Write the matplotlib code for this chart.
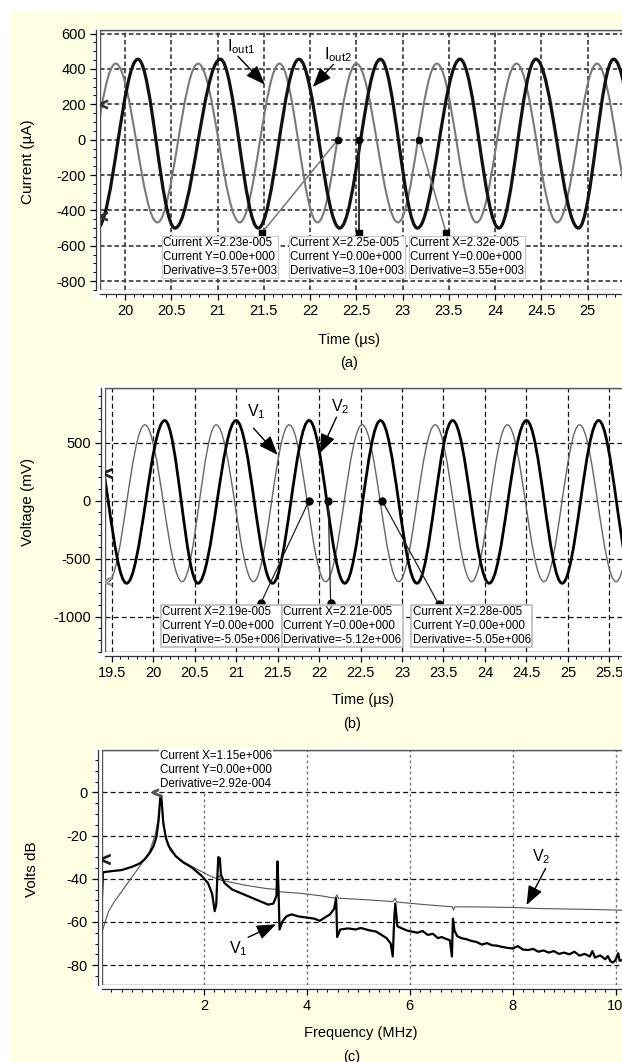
import numpy as np
import matplotlib
matplotlib.use("Agg")
import matplotlib.pyplot as plt
from matplotlib.path import Path
from matplotlib.patches import PathPatch, Rectangle
from matplotlib.ticker import MultipleLocator

plt.rcParams['font.family'] = ['Liberation Sans', 'DejaVu Sans']
plt.rcParams['mathtext.fontset'] = 'custom'
plt.rcParams['mathtext.rm'] = 'Liberation Sans'
plt.rcParams['mathtext.default'] = 'rm'
plt.rcParams['axes.unicode_minus'] = False

# ---- panel (a): output currents, extrema (us, uA)
t_iout1 = [19.46, 19.90, 20.35, 20.79, 21.24, 21.67, 22.08, 22.50, 22.95, 23.37,
           23.80, 24.23, 24.67, 25.10, 25.53, 25.96]
i_iout1 = [-468, 430, -468, 430, -468, 430, -468, 430, -468, 430,
           -468, 430, -468, 430, -468, 430]
t_iout2 = [19.70, 20.14, 20.54, 21.03, 21.44, 21.88, 22.32, 22.76, 23.16, 23.62,
           24.04, 24.44, 24.90, 25.28, 25.72]
i_iout2 = [-500, 455, -500, 455, -500, 455, -500, 455, -500, 455,
           -500, 455, -500, 455, -500]
cur_a_dot = [(22.30, 0), (22.53, 0), (23.18, 0)]
cur_a_pin = [(21.48, -527), (22.53, -527), (23.47, -527)]
cur_a_txt = ["Current X=2.23e-005\nCurrent Y=0.00e+000\nDerivative=3.57e+003",
             "Current X=2.25e-005\nCurrent Y=0.00e+000\nDerivative=3.10e+003",
             "Current X=2.32e-005\nCurrent Y=0.00e+000\nDerivative=3.55e+003"]
cur_a_txt_x = [20.41, 21.78, 23.08]

# ---- panel (b): voltages (us, mV)
t_v1 = [19.46, 19.90, 20.35, 20.76, 21.21, 21.64, 22.08, 22.52, 22.96, 23.40,
        23.84, 24.27, 24.71, 25.14, 25.58, 26.01]
v_v1 = [-698, 653, -698, 653, -698, 653, -698, 653, -698, 653,
        -698, 653, -698, 653, -698, 653]
t_v2 = [19.24, 19.68, 20.14, 20.54, 21.00, 21.44, 21.88, 22.31, 22.74, 23.18,
        23.61, 24.05, 24.50, 24.93, 25.37, 25.80]
v_v2 = [690, -712, 690, -712, 690, -712, 690, -712, 690, -712,
        690, -712, 690, -712, 690, -712]
cur_b_dot = [(21.88, 0), (22.11, 0), (22.76, 0)]
cur_b_pin = [(21.30, -880), (22.14, -880), (23.44, -890)]
cur_b_txt = ["Current X=2.19e-005\nCurrent Y=0.00e+000\nDerivative=-5.05e+006",
             "Current X=2.21e-005\nCurrent Y=0.00e+000\nDerivative=-5.12e+006",
             "Current X=2.28e-005\nCurrent Y=0.00e+000\nDerivative=-5.05e+006"]
cur_b_txt_x = [20.11, 21.57, 23.13]

# ---- panel (c): spectra (MHz, dB)
f_v2 = [0.03, 0.08, 0.15, 0.25, 0.4, 0.55, 0.7, 0.85, 0.95, 1.05, 1.1, 1.14, 1.16,
        1.18, 1.22, 1.28, 1.35, 1.5, 1.7, 1.9, 2.1, 2.25, 2.3, 2.33, 2.4, 2.8, 3.2,
        3.42, 3.45, 3.9, 4.3, 4.55, 4.58, 4.62, 5.2, 5.68, 5.71, 5.75, 6.3, 6.83,
        6.85, 6.88, 7.5, 8.0, 8.5, 9.0, 9.5, 10.0, 10.3]
db_v2 = [-64, -60, -55, -51, -46, -41, -36, -31, -27, -20, -14, -6, -2,
         -6, -15, -23, -27, -30.5, -33.5, -36, -38.5, -40, -38.5, -40.8, -41, -43, -44.5,
         -45, -46, -46.8, -48, -49, -47.5, -49, -49.8, -50.6, -49, -50.8, -52, -53,
         -54.5, -53, -53.1, -53.3, -53.8, -54, -54.2, -54.5, -54.7]
f_v1 = [0.02, 0.04, 0.2, 0.4, 0.6, 0.75, 0.85, 0.95, 1.02, 1.08, 1.12, 1.15, 1.165,
        1.18, 1.21, 1.26, 1.32, 1.45, 1.6, 1.75, 1.95, 2.08, 2.16, 2.21, 2.24, 2.26,
        2.28, 2.31, 2.33, 2.4, 2.55, 2.75, 3.0, 3.15, 3.25, 3.35, 3.41, 3.43, 3.45,
        3.47, 3.52, 3.6, 3.7, 3.85, 4.0, 4.15, 4.25, 4.35, 4.45, 4.53, 4.57, 4.59,
        4.65, 4.8, 4.95, 5.05, 5.2, 5.35, 5.45, 5.55, 5.63, 5.67, 5.7, 5.72, 5.76,
        5.85, 5.95, 6.05, 6.15, 6.25, 6.35, 6.45, 6.55, 6.62, 6.7, 6.78, 6.82, 6.84,
        6.87, 6.92, 7.0, 7.1, 7.2, 7.3, 7.4, 7.5, 7.6, 7.7, 7.8, 7.9, 8.0, 8.1, 8.2,
        8.3, 8.4, 8.5, 8.6, 8.7, 8.8, 8.9, 9.0, 9.1, 9.2, 9.3, 9.4, 9.5, 9.55, 9.6,
        9.7, 9.8, 9.85, 9.9, 9.95, 10.0, 10.05, 10.08, 10.15, 10.3]
db_v1 = [-48, -37, -36.5, -36, -34.5, -33, -31, -28, -25, -20.5, -13, -3, -1.5,
         -4, -14, -21, -25, -29.5, -32.5, -34.5, -38.5, -42, -47, -55, -52, -40,
         -30, -30.5, -38, -42, -45, -47, -49.5, -51, -52, -51.5, -48, -32, -45,
         -63.5, -60, -57.5, -56.5, -57.5, -58, -58.5, -59.5, -58, -56.5, -54, -49, -67,
         -63.5, -63, -63.5, -62.8, -63.8, -64.5, -66, -67.5, -70, -76, -58, -51.5, -62,
         -63, -64, -64.5, -65, -64.2, -66, -65.5, -67.5, -67, -67.8, -68.5, -76, -58.5,
         -64, -66.5, -67.5, -68, -68.8, -69.3, -70.5, -69.8, -70.8, -71, -71.6, -72, -72.3, -71.2, -72.8,
         -73, -72.5, -73.8, -73.2, -74.2, -73.5, -74.8, -74.2, -75, -73.8, -75.6, -74.8, -76, -73.5, -76.5,
         -75.5, -77.3, -75.8, -78.2, -78.8, -77.6, -74.5, -78, -77.5, -77]
cur_c_txt = "Current X=1.15e+006\nCurrent Y=0.00e+000\nDerivative=2.92e-004"

W, H = 622, 1062
BG = '#FFFFE4'
CUR_FS = 8.4
CUR_LS = 1.2


def px_box(x0, y0, x1, y1):
    # pixel box (top-left origin) -> figure fraction rect
    return [x0 / W, 1 - y1 / H, (x1 - x0) / W, (y1 - y0) / H]


def wave(t, v, k=0.3634):
    verts = [(t[0], v[0])]
    codes = [Path.MOVETO]
    for i in range(1, len(t)):
        dt = t[i] - t[i - 1]
        verts += [(t[i - 1] + k * dt, v[i - 1]), (t[i] - k * dt, v[i]), (t[i], v[i])]
        codes += [Path.CURVE4] * 3
    return Path(verts, codes)


def style_axes(ax, xmin, ymin):
    for s in ax.spines.values():
        s.set_linewidth(0.9)
        s.set_color('#333333')
    ax.spines['bottom'].set_position(('outward', 3))
    ax.spines['left'].set_position(('outward', 3))
    ax.add_patch(Rectangle((0, 0), 1, 1, transform=ax.transAxes, fill=False,
                           lw=1.0, ec='#555555', zorder=5))
    ax.xaxis.set_minor_locator(MultipleLocator(xmin))
    ax.yaxis.set_minor_locator(MultipleLocator(ymin))
    ax.tick_params(which='major', length=4, width=0.9, labelsize=10.5, direction='out', pad=3)
    ax.tick_params(which='minor', length=2.5, width=0.7, direction='out')
    ax.set_axisbelow(True)


fig = plt.figure(figsize=(W / 100, H / 100), dpi=100)
fig.patch.set_facecolor('white')
fig.patches.append(Rectangle((10 / W, 0), 1, 1 - 10 / H, transform=fig.transFigure,
                             fc=BG, ec='none', zorder=-10))
for x0, y0, x1, y1 in [(92, 28, 622, 298), (95, 384, 622, 660), (93, 747, 622, 992)]:
    r = px_box(x0, y0, x1, y1)
    fig.patches.append(Rectangle((r[0], r[1]), r[2], r[3], transform=fig.transFigure,
                                 fc='white', ec='none', zorder=-9))

arrow_kw = dict(arrowstyle='-|>,head_length=0.9,head_width=0.35', color='black',
                lw=1.0, shrinkA=0, shrinkB=0, mutation_scale=13)
box_kw = dict(boxstyle='square,pad=0.12', fc='white', ec='#bbbbbb', lw=1.2)

# ================= (a)
ax = fig.add_axes(px_box(100, 30, 634, 290))
ax.set_xlim(19.73, 25.5)
ax.set_ylim(-850, 620)
ax.set_xticks([20, 20.5, 21, 21.5, 22, 22.5, 23, 23.5, 24, 24.5, 25])
ax.set_xticklabels(['20', '20.5', '21', '21.5', '22', '22.5', '23', '23.5', '24', '24.5', '25'])
ax.set_yticks([600, 400, 200, 0, -200, -400, -600, -800])
style_axes(ax, 0.1, 50)
ax.grid(True, color='#444444', lw=1.3, ls=(0, (2.5, 1.5)))
ax.add_patch(PathPatch(wave(t_iout1, i_iout1), fill=False, ec='#7a7a7a', lw=1.5, zorder=3))
ax.add_patch(PathPatch(wave(t_iout2, i_iout2), fill=False, ec='#111111', lw=2.3, zorder=3))
ax.plot([cur_a_pin[0][0], cur_a_dot[0][0]], [cur_a_pin[0][1], cur_a_dot[0][1]], color='#777777', lw=1.1, zorder=4)
ax.plot([cur_a_pin[1][0], cur_a_dot[1][0]], [cur_a_pin[1][1], cur_a_dot[1][1]], color='#222222', lw=1.3, zorder=4)
ax.plot([cur_a_pin[2][0], cur_a_dot[2][0]], [cur_a_pin[2][1], cur_a_dot[2][1]], color='#777777', lw=1.1, zorder=4)
ax.plot([p[0] for p in cur_a_dot], [p[1] for p in cur_a_dot], 'o', color='black', ms=4.5, zorder=6)
ax.plot([p[0] for p in cur_a_pin], [p[1] for p in cur_a_pin], 's', color='black', ms=4, zorder=6)
ax.plot([19.76, 19.76], [200, -430], ls='none', marker='$<$', color='#333333', ms=6, zorder=6)
for x, s in zip(cur_a_txt_x, cur_a_txt):
    ax.text(x, -550, s, fontsize=CUR_FS, va='top', ha='left', linespacing=CUR_LS, zorder=7,
            bbox=dict(boxstyle='square,pad=0.1', fc='white', ec='#c8c8c8', lw=0.8))
ax.annotate('', xy=(21.51, 312), xytext=(21.22, 472), arrowprops=arrow_kw, zorder=7)
ax.text(21.10, 527, 'I$_{out1}$', fontsize=11.5, va='center', ha='left', zorder=7)
ax.annotate('', xy=(22.03, 298), xytext=(22.25, 425), arrowprops=arrow_kw, zorder=7)
ax.text(22.15, 482, 'I$_{out2}$', fontsize=11.5, va='center', ha='left', zorder=7)
fig.text(349 / W, 1 - 340 / H, 'Time (µs)', fontsize=10.5, ha='center', va='center')
fig.text(349 / W, 1 - 363 / H, '(a)', fontsize=10.5, ha='center', va='center')
fig.text(28 / W, 1 - 162 / H, 'Current (µA)', fontsize=11, ha='center', va='center', rotation=90)

# ================= (b)
ax = fig.add_axes(px_box(105, 388, 631, 652))
ax.set_xlim(19.42, 25.76)
ax.set_ylim(-1304, 970)
ax.set_xticks([19.5, 20, 20.5, 21, 21.5, 22, 22.5, 23, 23.5, 24, 24.5, 25, 25.5])
ax.set_xticklabels(['19.5', '20', '20.5', '21', '21.5', '22', '22.5', '23', '23.5', '24',
                    '24.5', '25', '25.5'])
ax.set_yticks([500, 0, -500, -1000])
style_axes(ax, 0.1, 100)
ax.grid(True, color='#111111', lw=0.9, ls=(0, (4, 2.5)))
ax.add_patch(PathPatch(wave(t_v1, v_v1), fill=False, ec='#666666', lw=1.0, zorder=3))
ax.add_patch(PathPatch(wave(t_v2, v_v2), fill=False, ec='#000000', lw=2.0, zorder=3))
for p, d in zip(cur_b_pin, cur_b_dot):
    ax.plot([p[0], d[0]], [p[1], d[1]], color='#222222', lw=0.9, zorder=4)
ax.plot([p[0] for p in cur_b_dot], [p[1] for p in cur_b_dot], 'o', color='black', ms=5, zorder=6)
ax.plot([p[0] for p in cur_b_pin], [p[1] for p in cur_b_pin], 'o', color='black', ms=5, zorder=6)
ax.plot([19.45], [240], ls='none', marker='$<$', color='#222222', ms=7, zorder=6)
ax.plot([19.45], [-690], ls='none', marker='$<$', color='#999999', ms=6, zorder=6)
for x, s in zip(cur_b_txt_x, cur_b_txt):
    ax.text(x, -912, s, fontsize=CUR_FS, va='top', ha='left', linespacing=CUR_LS, zorder=7,
            bbox=box_kw)
ax.annotate('', xy=(21.50, 394), xytext=(21.21, 624), arrowprops=arrow_kw, zorder=7)
ax.text(21.13, 765, 'V$_1$', fontsize=11.5, va='center', ha='left', zorder=7)
ax.annotate('', xy=(22.01, 409), xytext=(22.21, 719), arrowprops=arrow_kw, zorder=7)
ax.text(22.14, 811, 'V$_2$', fontsize=11.5, va='center', ha='left', zorder=7)
fig.text(363 / W, 1 - 700 / H, 'Time (µs)', fontsize=10.5, ha='center', va='center')
fig.text(352 / W, 1 - 724 / H, '(b)', fontsize=10.5, ha='center', va='center')
fig.text(28 / W, 1 - 502 / H, 'Voltage (mV)', fontsize=11, ha='center', va='center', rotation=90)

# ================= (c)
ax = fig.add_axes(px_box(102, 750, 631, 985))
ax.set_xlim(0.02, 10.3)
ax.set_ylim(-89.2, 19.6)
ax.set_xticks([2, 4, 6, 8, 10])
ax.set_yticks([0, -20, -40, -60, -80])
style_axes(ax, 0.2, 5)
ax.yaxis.grid(True, color='#111111', lw=0.9, ls=(0, (4, 2.5)))
ax.xaxis.grid(True, color='#777777', lw=1.0, ls=(0, (2, 2)))
ax.plot(f_v2, db_v2, color='#555555', lw=0.8, zorder=3)
ax.plot(f_v1, db_v1, color='#000000', lw=1.6, zorder=3)
ax.plot([0.07], [-31], ls='none', marker='$<$', color='#222222', ms=7, zorder=6)
ax.plot([1.08], [0.2], ls='none', marker='$<$', color='#555555', ms=7, zorder=6)
ax.text(1.15, 19.4, cur_c_txt, fontsize=CUR_FS, va='top', ha='left', linespacing=CUR_LS, zorder=7,
        clip_on=False, bbox=dict(boxstyle='square,pad=0.1', fc='white', ec='none'))
ax.annotate('', xy=(3.40, -61.1), xytext=(2.86, -67.1), arrowprops=arrow_kw, zorder=7)
ax.text(2.48, -72.4, 'V$_1$', fontsize=11.5, va='center', ha='left', zorder=7)
ax.annotate('', xy=(8.27, -52.2), xytext=(8.64, -35.2), arrowprops=arrow_kw, zorder=7)
ax.text(8.37, -29.8, 'V$_2$', fontsize=11.5, va='center', ha='left', zorder=7)
fig.text(361 / W, 1 - 1033 / H, 'Frequency (MHz)', fontsize=10.5, ha='center', va='center')
fig.text(352 / W, 1 - 1057 / H, '(c)', fontsize=10.5, ha='center', va='center')
fig.text(32 / W, 1 - 869 / H, 'Volts dB', fontsize=11, ha='center', va='center', rotation=90)

fig.savefig('out.png', dpi=100, facecolor=fig.get_facecolor())
